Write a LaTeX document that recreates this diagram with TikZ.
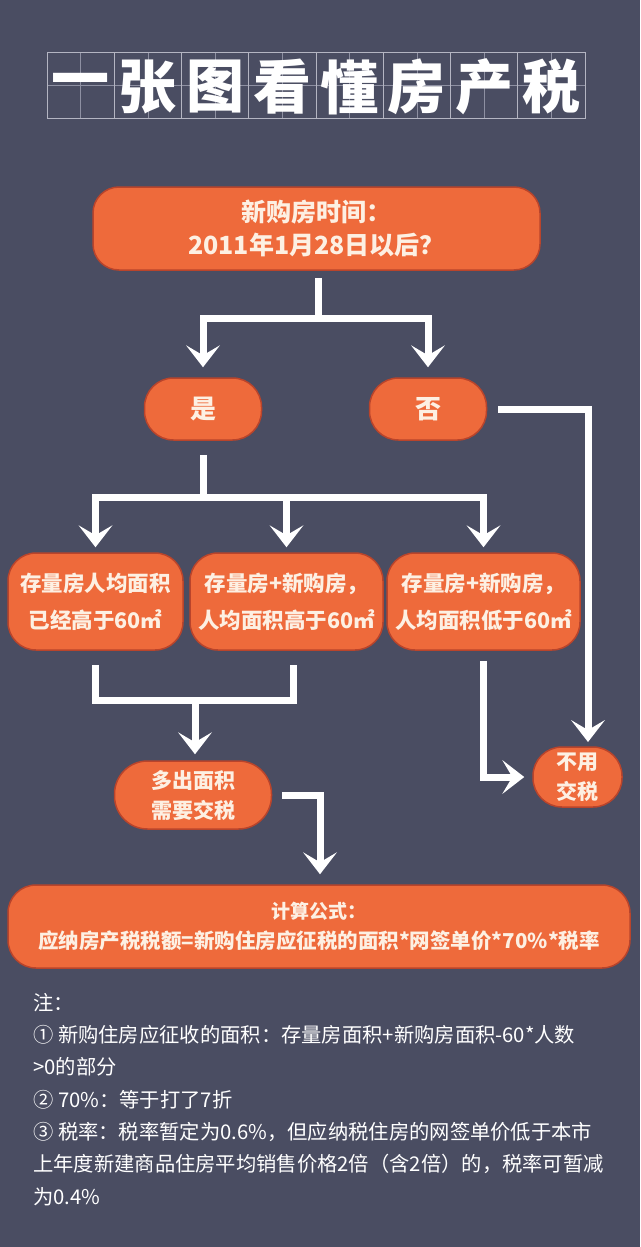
\documentclass[tikz,border=0pt]{standalone}
\usepackage{fontspec}
\setmainfont{Noto Sans CJK SC}
\usetikzlibrary{arrows.meta,calc}
\definecolor{bg}{HTML}{4A4D62}
\definecolor{org}{HTML}{EE6A3B}
\definecolor{orgdk}{HTML}{B9442B}
\definecolor{cream}{HTML}{FDF0E3}
\definecolor{gridc}{HTML}{B4B5C2}
\definecolor{gridi}{HTML}{8E90A2}
\begin{document}
\begin{tikzpicture}[x=1pt,y=-1pt,
  box/.style={draw=orgdk, line width=1.5pt, fill=org, text=cream, align=center, inner sep=0pt, font=\bfseries},
  pill/.style={box, rounded corners=29pt},
  line/.style={draw=white, line width=7pt, line join=miter},
  arr/.style={line, -{Stealth[length=22pt,width=34pt,inset=10pt,line width=0pt]}},
  ]
\useasboundingbox (0,0) rectangle (640,1247);
\fill[bg] (0,0) rectangle (640,1247);

% title grid
\foreach \c [count=\k] in {一,张,图,看,懂,房,产,税} {
  \pgfmathsetmacro\xa{47+67.25*(\k-1)}
  \pgfmathsetmacro\xm{\xa+33.6}
  \draw[gridi, line width=0.6pt] (\xm,53) -- (\xm,118) (\xa,85.5) -- (\xa+67.25,85.5);
  \draw[gridc, line width=1pt] (\xa,53) rectangle (\xa+67.25,118);
  \node[text=white, font=\bfseries\fontsize{58}{58}\selectfont, inner sep=0pt] (t\k) at (\xm,87) {\c};
}

% nodes
\node[box, rounded corners=26pt, minimum width=447pt, minimum height=83pt,
      font=\bfseries\fontsize{25}{33}\selectfont] (q) at (316.5,228.5) {新购房时间：\\2011年1月28日以后？};
\node[pill, minimum width=117pt, minimum height=62pt, font=\bfseries\fontsize{26}{30}\selectfont] (yes) at (203,409) {是};
\node[pill, minimum width=117pt, minimum height=62pt, font=\bfseries\fontsize{26}{30}\selectfont] (no) at (428,409) {否};

\node[box, rounded corners=28pt, minimum width=175pt, minimum height=97pt,
      font=\bfseries\fontsize{21.5}{37}\selectfont] (b1) at (95.5,601.5) {存量房人均面积\\已经高于60㎡};
\node[box, rounded corners=28pt, minimum width=193pt, minimum height=97pt,
      font=\bfseries\fontsize{21.5}{37}\selectfont] (b2) at (286.5,601.5) {存量房+新购房，\\人均面积高于60㎡};
\node[box, rounded corners=28pt, minimum width=193pt, minimum height=97pt,
      font=\bfseries\fontsize{21.5}{37}\selectfont] (b3) at (483.5,601.5) {存量房+新购房，\\人均面积低于60㎡};

\node[pill, rounded corners=33pt, minimum width=157pt, minimum height=68pt,
      font=\bfseries\fontsize{21}{30}\selectfont] (m) at (193,795) {多出面积\\需要交税};
\node[pill, minimum width=89pt, minimum height=60pt,
      font=\bfseries\fontsize{21}{30}\selectfont] (n) at (577.5,777) {不用\\交税};

\node[box, rounded corners=28pt, minimum width=622pt, minimum height=83pt,
      font=\bfseries\fontsize{20.5}{30}\selectfont] (f) at (319,926.5)
      {{\fontsize{19}{30}\selectfont 计算公式：}\\应纳房产税税额=新购住房应征税的面积*网签单价*70\%*税率};

% notes
\node[anchor=north west, align=left, text=white, inner sep=0pt,
      font=\fontsize{20.3}{32.3}\selectfont] (notes) at (33,993)
  {注：\\
   ① 新购住房应征收的面积：存量房面积+新购房面积-60*人数\\
   >0的部分\\
   ② 70\%：等于打了7折\\
   ③ 税率：税率暂定为0.6\%，但应纳税住房的网签单价低于本市\\
   上年度新建商品住房平均销售价格2倍（含2倍）的，税率可暂减\\
   为0.4\%};

% connectors
\coordinate (j1) at (318,318);
\draw[line, shorten <=7pt] (q.south -| j1) -- (j1);
\draw[arr, shorten >=10pt] (j1) -| (yes.north);
\draw[arr, shorten >=10pt] (j1) -| (no.north);

\coordinate (nTop) at (588,742);
\draw[arr, shorten <=11pt] (no.east) -| (nTop);

\coordinate (j2) at (203,497);
\draw[line, shorten <=14pt] (yes.south) -- (j2);
\draw[arr, shorten >=5pt] (j2) -| (b1.north);
\draw[arr, shorten >=5pt] (j2) -| (b2.north);
\draw[arr, shorten >=5pt] (j2) -| (b3.north);

\coordinate (k2) at (293,700);
\coordinate (k) at (195,700);
\draw[line, shorten <=14pt, shorten >=14pt] (b1.south) |- (k2) -- (b2.south -| k2);
\draw[arr, shorten >=6pt] (k) -- (m.north -| k);

\coordinate (fx) at (320,0);
\draw[arr, shorten <=10pt, shorten >=10pt] (m.east) -| (f.north -| fx);

\draw[arr, shorten <=10pt, shorten >=8pt] (b3.south) |- (n.west);
\end{tikzpicture}
\end{document}
